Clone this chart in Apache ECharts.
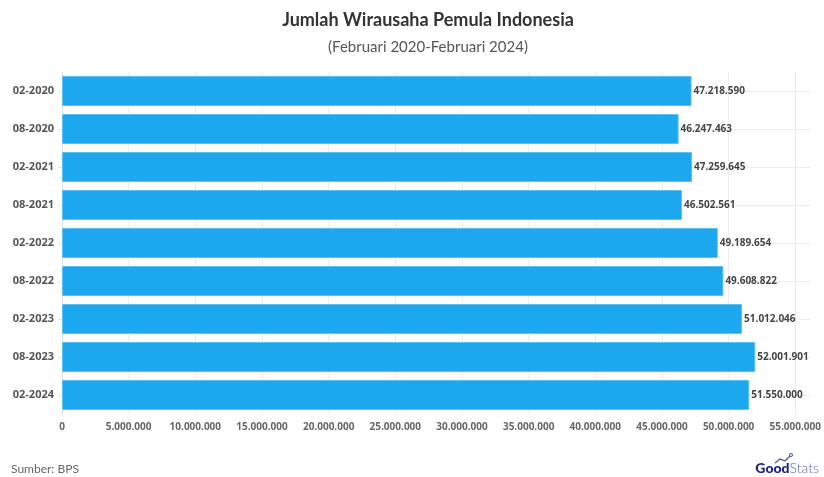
<!DOCTYPE html>
<html><head><meta charset="utf-8">
<script src="https://cdn.jsdelivr.net/npm/echarts@6/dist/echarts.min.js"></script>
<style>html,body{margin:0;padding:0;background:#fff}#c{width:824px;height:477px}</style>
</head><body><div id="c"></div>
<script>
const categories = ['02-2020','08-2020','02-2021','08-2021','02-2022','08-2022','02-2023','08-2023','02-2024'];
const values = [47218590, 46247463, 47259645, 46502561, 49189654, 49608822, 51012046, 52001901, 51550000];
const xTicks = [0,5000000,10000000,15000000,20000000,25000000,30000000,35000000,40000000,45000000,50000000,55000000];
const titleText = 'Jumlah Wirausaha Pemula Indonesia';
const subtitleText = '(Februari 2020-Februari 2024)';
const sourceText = 'Sumber: BPS';

function fmt(v){ return String(Math.round(v)).replace(/\B(?=(\d{3})+(?!\d))/g,'.'); }

const chart = echarts.init(document.getElementById('c'), null, {renderer:'canvas'});
chart.setOption({
  animation:false,
  backgroundColor:'#fff',
  title:[
    {text:titleText, left:423, top:6, textAlign:'center',
     textStyle:{fontFamily:'Lato', fontWeight:'bold', fontSize:18, color:'#333'}},
    {text:subtitleText, left:423, top:35, textAlign:'center',
     textStyle:{fontFamily:'Lato', fontWeight:'normal', fontSize:15, color:'#555'}}
  ],
  grid:{left:62, right:14, top:72, bottom:63, containLabel:false},
  xAxis:{type:'value', min:0, max:56100000, interval:5000000,
    axisLine:{show:false}, axisTick:{show:false},
    splitLine:{show:false},
    axisLabel:{margin:8, fontFamily:'Open Sans', fontWeight:'bold', fontSize:10, color:'#666',
      formatter:function(v){ return v % 5000000 === 0 ? fmt(v) : ''; }}
  },
  yAxis:{type:'category', data:categories, inverse:true,
    axisLine:{show:true, lineStyle:{color:'#e0e0e0'}},
    axisTick:{show:true, alignWithLabel:true, length:4, lineStyle:{color:'#e0e0e0'}},
    splitLine:{show:true, alignWithLabel:true, lineStyle:{color:'#ececec'}},
    axisLabel:{margin:8, fontFamily:'Open Sans', fontWeight:'bold', fontSize:11, color:'#555'}
  },
  series:[
    {type:'line', data:[], silent:true, z:0,
     markLine:{silent:true, z:1, symbol:'none', label:{show:false},
       lineStyle:{color:'#ececec', type:'solid', width:1},
       data:xTicks.slice(1).map(function(t){return {xAxis:t};})}},
    {type:'bar', data:values, barCategoryGap:'21%', z:2,
    itemStyle:{color:'#1ca7ee', borderColor:'#5ec0f3', borderWidth:1},
    label:{show:true, position:'right', distance:2, formatter:function(p){return fmt(p.value);},
      fontFamily:'Open Sans', fontWeight:'bold', fontSize:10, color:'#444'}
  }],
  graphic:[
    {type:'text', left:11, top:463, style:{text:sourceText, font:'12px Lato', fill:'#666'}},
    {type:'polyline', shape:{points:[[775,463],[780,459],[785,461],[791,455]]}, style:{stroke:'#4b50b0', lineWidth:1.2, fill:null}},
    {type:'circle', shape:{cx:791, cy:455, r:1.5}, style:{fill:'#fff', stroke:'#4b50b0', lineWidth:1}},
    {type:'text', right:5, top:461, style:{text:'{a|Good}{b|Stats}', rich:{
      a:{fontFamily:'Lato', fontWeight:'900', fontSize:14, fill:'#1b1f8a', color:'#1b1f8a'},
      b:{fontFamily:'Lato', fontWeight:'300', fontSize:14, fill:'#5a5fb0', color:'#5a5fb0'}}}}
  ]
});
</script></body></html>
